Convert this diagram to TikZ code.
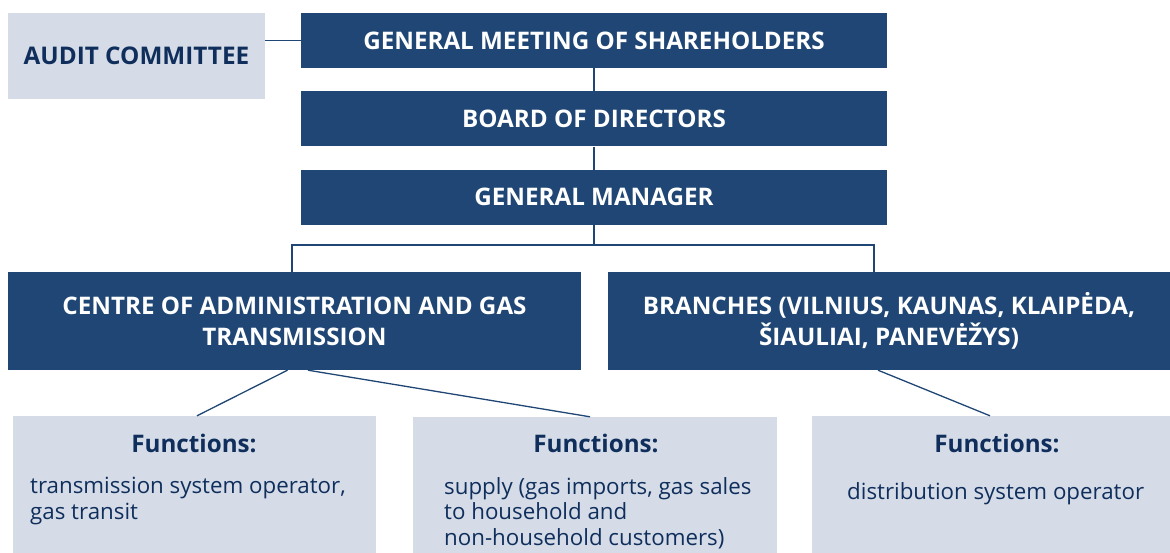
\documentclass[tikz,border=0pt]{standalone}
\usepackage{fontspec}
\setmainfont{Open Sans}
\usetikzlibrary{positioning}

\definecolor{orgblue}{HTML}{1F4674}
\definecolor{orggrey}{HTML}{D5DCE7}
\definecolor{orgnavy}{HTML}{0F2E5C}

\begin{document}
\begin{tikzpicture}[x=1pt,y=-1pt,
   bluebox/.style={fill=orgblue, text=white, align=center, inner sep=0pt,
      font=\bfseries\fontsize{24.2}{31}\selectfont},
   greybox/.style={fill=orggrey, inner sep=0pt},
   functitle/.style={text=orgnavy, inner sep=0pt, font=\bfseries\fontsize{24.2}{28}\selectfont},
   functext/.style={text=orgnavy, inner sep=0pt, align=left, anchor=north west,
      font=\fontsize{22.3}{25.5}\selectfont},
   link/.style={draw=orgblue, line width=1.3pt}]

\useasboundingbox (0,0) rectangle (1170,553);

\node[greybox, minimum width=257, minimum height=86, text=orgnavy,
   font=\bfseries\fontsize{24.3}{28}\selectfont] (audit) at (136.5,56) {AUDIT COMMITTEE};

\node[bluebox, minimum width=586, minimum height=55] (meeting) at (594,40.5) {GENERAL MEETING OF SHAREHOLDERS};
\node[bluebox, minimum width=586, minimum height=55, below = 23pt of meeting] (board) {BOARD OF DIRECTORS};
\node[bluebox, minimum width=586, minimum height=55, below = 23pt of board] (manager) {GENERAL MANAGER};

\node[bluebox, minimum width=573, minimum height=98] (centre) at (294.5,321) {CENTRE OF ADMINISTRATION AND GAS\\TRANSMISSION};
\node[bluebox, minimum width=562, minimum height=98] (branches) at (889,321) {BRANCHES (VILNIUS, KAUNAS, KLAIPĖDA,\\ŠIAULIAI, PANEVĖŽYS)};

% Function boxes
\node[greybox, minimum width=363, minimum height=137] (fbox1) at (194.5,484.5) {};
\node[greybox, minimum width=364, minimum height=136] (fbox2) at (595,485) {};
\node[greybox, minimum width=358, minimum height=137] (fbox3) at (991,484.5) {};

\node[functitle] (ftitle1) at (194,443) {Functions:};
\node[functitle] (ftitle2) at (596,443) {Functions:};
\node[functitle] (ftitle3) at (997,443) {Functions:};

\node[functext] (ftext1) at (30,477) {transmission system operator,\\gas transit};
\node[functext] (ftext2) at (444,477) {supply (gas imports, gas sales\\to household and\\non-household customers)};
\node[functext] (ftext3) at (847,482) {distribution system operator};

\coordinate (fork) at (594,245);

% Connecting lines
\draw[link] (audit.east |- meeting) -- (meeting.west);
\draw[link] (meeting) -- (board);
\draw[link] (board) -- (manager);
\draw[link] (manager.south) -- (fork) -| ([xshift=-2.5pt]centre.north);
\draw[link] (fork) -| ([xshift=-15pt]branches.north);
\draw[link] ([xshift=-7pt]centre.south) -- ([xshift=2.5pt]fbox1.north);
\draw[link] ([xshift=13.5pt]centre.south) -- ([xshift=-5pt]fbox2.north);
\draw[link] ([xshift=-11pt]branches.south) -- ([xshift=-1pt]fbox3.north);

\end{tikzpicture}
\end{document}
